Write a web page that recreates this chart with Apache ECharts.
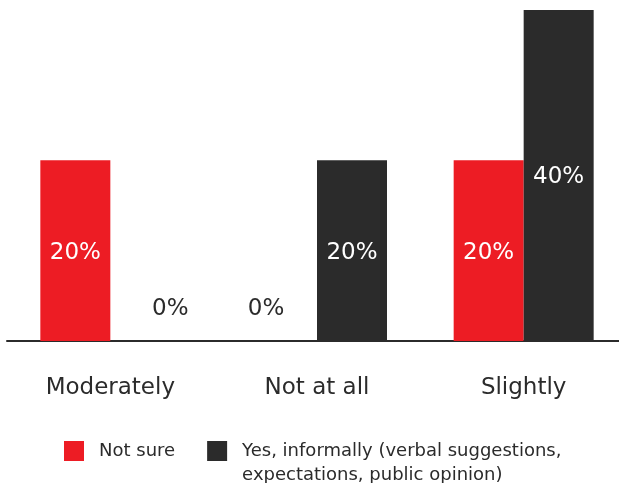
<!DOCTYPE html>
<html>
<head>
<meta charset="utf-8">
<script src="https://cdn.jsdelivr.net/npm/echarts@6/dist/echarts.min.js"></script>
<style>html,body{margin:0;padding:0;background:#fff;}#c{width:619px;height:483px;}</style>
</head>
<body>
<div id="c"></div>
<script>
var categories = ['Moderately', 'Not at all', 'Slightly'];
var seriesNames = ['Not sure', 'Yes, informally (verbal suggestions,\nexpectations, public opinion)'];
var notSure = [20, 0, 20];
var yesInformally = [0, 20, 40];

var RED = '#ED1C24', DARK = '#2B2B2B', FONT = 'DejaVu Sans';

function toData(arr, zeroShift) {
  return arr.map(function (v) {
    if (v === 0) {
      return { value: v, label: { position: 'top', distance: 20, color: DARK, offset: [zeroShift, 0] } };
    }
    return v;
  });
}

var chart = echarts.init(document.getElementById('c'));
chart.setOption({
  animation: false,
  grid: { left: 7, width: 620, top: 10, bottom: 142, containLabel: false, outerBoundsMode: 'none' },
  xAxis: {
    type: 'category',
    data: categories,
    axisLine: { lineStyle: { color: DARK, width: 2 } },
    axisTick: { show: false },
    axisLabel: { color: DARK, fontFamily: FONT, fontSize: 23, margin: 36 }
  },
  yAxis: {
    type: 'value', min: 0, max: 36.6,
    show: false,
    splitLine: { show: false }
  },
  legend: {
    left: 64, top: 415, padding: 0,
    itemWidth: 20, itemHeight: 20, itemGap: 32,
    icon: 'rect',
    formatter: function (name) { return name === seriesNames[1] ? '\n' + name : name; },
    textStyle: { color: DARK, fontFamily: FONT, fontSize: 18, lineHeight: 24, padding: [0, 0, 0, 10] },
    data: [seriesNames[0], seriesNames[1]]
  },
  series: [
    {
      name: seriesNames[0], type: 'bar', data: toData(notSure, -16),
      barWidth: 70, barGap: '0%', itemStyle: { color: RED },
      label: { show: true, position: 'inside', offset: [0, 2], color: '#fff', fontFamily: FONT, fontSize: 23, formatter: '{c}%' }
    },
    {
      name: seriesNames[1], type: 'bar', data: toData(yesInformally, 25),
      barWidth: 70, barGap: '0%', itemStyle: { color: DARK },
      label: { show: true, position: 'inside', offset: [0, 2], color: '#fff', fontFamily: FONT, fontSize: 23, formatter: '{c}%' }
    }
  ]
});
</script>
</body>
</html>
